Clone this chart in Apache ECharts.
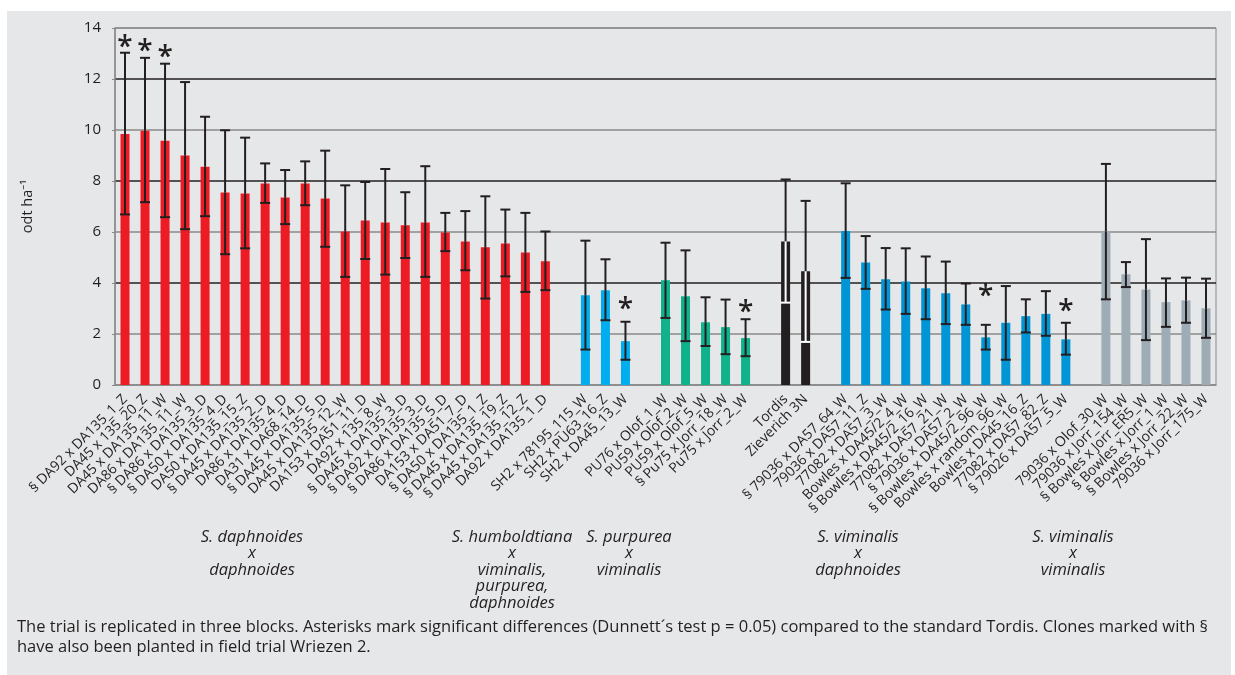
<!DOCTYPE html>
<html>
<head>
<meta charset="utf-8">
<script src="https://cdn.jsdelivr.net/npm/echarts@6/dist/echarts.min.js"></script>
<style>
  html, body { margin: 0; padding: 0; background: #ffffff; }
  #panel { position: absolute; left: 7px; top: 11px; width: 1224px; height: 664px; background: #e6e7e8; }
  #chart { position: absolute; left: 0; top: 0; width: 1235px; height: 675px; }
</style>
</head>
<body>
<div id="panel"></div>
<div id="chart"></div>
<script>
// Clone names; empty strings separate the crossing groups.
const categories = [
  '§ DA92 x DA135_1_Z', 'DA45 x 135_20_Z', 'DA45 x DA135_11_W', 'DA86 x DA135_11_W',
  '§ DA86 x DA135_3_D', '§ DA50 x DA135_4_D', 'DA50 x DA135_15_Z', '§ DA45 x DA135_2_D',
  'DA86 x DA135_4_D', 'DA31 x DA68_14_D', '§ DA45 x DA135_5_D', 'DA45 x DA135_12_W',
  'DA153 x DA51_11_D', 'DA92 x 135_8_W', '§ DA45 x DA135_3_D', '§ DA92 x DA135_3_D',
  '§ DA86 x DA135_5_D', 'DA153 x DA51_7_D', '§ DA50 x DA135_1_Z', '§ DA45 x DA135_19_Z',
  '§ DA45 x DA135_12_Z', 'DA92 x DA135_1_D',
  '',
  'SH2 x 78195_115_W', 'SH2 x PU63_16_Z', 'SH2 x DA45_13_W',
  '',
  'PU76 x Olof_1_W', 'PU59 x Olof_2_W', 'PU59 x Olof_5_W', '§ Pu75 x Jorr_18_W', 'Pu75 x Jorr_2_W',
  '',
  'Tordis', 'Zieverich 3N',
  '',
  '§ 79036 x DA57_64_W', '79036 x DA57_11_Z', '77082 x DA57_3_W', 'Bowles x DA45/2_4_W',
  '§ Bowles x DA45/2_16_W', '77082 x DA57_21_W', '§ 79036 x DA57_2_W', '§ Bowles x DA45/2_96_W',
  'Bowles x random_96_W', 'Bowles x DA45_16_Z', '77082 x DA57_82_Z', '§ 79026 x DA57_5_W',
  '',
  '79036 x Olof_30_W', '79036 x Jorr_154_W', '§ Bowles x Jorr_ER5_W', '§ Bowles x Jorr_1_W',
  '§ Bowles x Jorr_22_W', '79036 x Jorr_175_W'
];

// Crossing group of each category ('' for spacer slots).
const crossing = [
  'dd','dd','dd','dd','dd','dd','dd','dd','dd','dd','dd','dd','dd','dd','dd','dd','dd','dd','dd','dd','dd','dd',
  '',
  'hu','hu','hu',
  '',
  'pv','pv','pv','pv','pv',
  '',
  'st','st',
  '',
  'vd','vd','vd','vd','vd','vd','vd','vd','vd','vd','vd','vd',
  '',
  'vv','vv','vv','vv','vv','vv'
];

// Mean yield (odt ha-1)
const yieldMean = [
  9.84, 9.97, 9.58, 9.00, 8.56, 7.55, 7.51, 7.90, 7.35, 7.90, 7.31, 6.02, 6.45, 6.37, 6.26, 6.37, 5.98, 5.63, 5.40, 5.55, 5.20, 4.85,
  null,
  3.52, 3.72, 1.72,
  null,
  4.11, 3.48, 2.46, 2.27, 1.84,
  null,
  5.63, 4.46,
  null,
  6.04, 4.80, 4.15, 4.06, 3.79, 3.60, 3.16, 1.87, 2.44, 2.70, 2.79, 1.79,
  null,
  6.02, 4.34, 3.75, 3.25, 3.32, 3.01
];

// Lower end of the error bar
const yieldLow = [
  6.69, 7.17, 6.58, 6.11, 6.62, 5.13, 5.36, 7.14, 6.31, 7.05, 5.42, 4.24, 4.94, 4.33, 4.98, 4.24, 5.25, 4.50, 3.39, 4.26, 3.65, 3.72,
  null,
  1.39, 2.54, 0.99,
  null,
  2.63, 1.72, 1.53, 1.21, 1.13,
  null,
  3.23, 1.69,
  null,
  4.20, 3.77, 2.96, 2.79, 2.58, 2.39, 2.36, 1.39, 0.99, 2.06, 1.93, 1.19,
  null,
  3.36, 3.84, 1.76, 2.28, 2.44, 1.85
];

// Upper end of the error bar
const yieldHigh = [
  13.03, 12.83, 12.60, 11.88, 10.52, 9.99, 9.70, 8.69, 8.43, 8.77, 9.19, 7.83, 7.96, 8.47, 7.56, 8.58, 6.75, 6.82, 7.40, 6.88, 6.75, 6.02,
  null,
  5.66, 4.93, 2.48,
  null,
  5.58, 5.28, 3.44, 3.35, 2.58,
  null,
  8.06, 7.22,
  null,
  7.91, 5.84, 5.37, 5.36, 5.04, 4.84, 3.98, 2.36, 3.88, 3.36, 3.68, 2.44,
  null,
  8.67, 4.82, 5.72, 4.18, 4.21, 4.17
];

// Significant difference to Tordis (Dunnett): level of the asterisk on the value scale
const asteriskLevel = [
  13.52, 13.36, 13.13, null, null, null, null, null, null, null, null, null, null, null, null, null, null, null, null, null, null, null,
  null,
  null, null, 3.26,
  null,
  null, null, null, null, 3.13,
  null,
  null, null,
  null,
  null, null, null, null, null, null, null, 3.78, null, null, null, 3.17,
  null,
  null, null, null, null, null, null
];

const yTicks = { min: 0, max: 14, step: 2 };

const groupNames = [
  'S. daphnoides\nx\ndaphnoides',
  'S. humboldtiana\nx\nviminalis,\npurpurea,\ndaphnoides',
  'S. purpurea\nx\nviminalis',
  'S. viminalis\nx\ndaphnoides',
  'S. viminalis\nx\nviminalis'
];
const groupNameX = [252, 512, 629, 858, 1073];

const captionText = 'The trial is replicated in three blocks. Asterisks mark significant differences (Dunnett´s test p = 0.05) compared to the standard Tordis. Clones marked with §\nhave also been planted in field trial Wriezen 2.';

// ---- styling ----
const palette = { dd: '#ed1c24', hu: '#00aeef', pv: '#10b28b', st: '#231f20', vd: '#0096d6', vv: '#9eacb6' };
const ink = '#231f20';
const FONT = '"Open Sans", "Noto Sans", sans-serif';

const barData = yieldMean.map((v, i) => v == null ? '-' : { value: v, itemStyle: { color: palette[crossing[i]] } });
const errData = [];
yieldMean.forEach((v, i) => {
  if (v != null) errData.push([i, yieldLow[i], yieldHigh[i], v, crossing[i] === 'st' ? 1 : 0]);
});
const starData = [];
asteriskLevel.forEach((v, i) => { if (v != null) starData.push([i, v]); });

function renderError(params, api) {
  const i = api.value(0);
  const pLo = api.coord([i, api.value(1)]);
  const pHi = api.coord([i, api.value(2)]);
  const pM = api.coord([i, api.value(3)]);
  const lowColor = api.value(4) ? '#ffffff' : ink;
  const x = pLo[0];
  const cap = 5;
  const w = 2;
  return {
    type: 'group',
    children: [
      { type: 'line', shape: { x1: x, y1: pHi[1], x2: x, y2: pM[1] }, style: { stroke: ink, lineWidth: w } },
      { type: 'line', shape: { x1: x, y1: pM[1], x2: x, y2: pLo[1] }, style: { stroke: lowColor, lineWidth: w } },
      { type: 'line', shape: { x1: x - cap, y1: pHi[1], x2: x + cap, y2: pHi[1] }, style: { stroke: ink, lineWidth: w } },
      { type: 'line', shape: { x1: x - cap, y1: pLo[1], x2: x + cap, y2: pLo[1] }, style: { stroke: lowColor, lineWidth: w } }
    ]
  };
}

function renderStar(params, api) {
  const p = api.coord([api.value(0), api.value(1)]);
  return {
    type: 'text',
    x: p[0],
    y: p[1] + 8,
    style: { text: '*', fill: ink, font: '600 28px ' + FONT, align: 'center', verticalAlign: 'middle' }
  };
}

// Group captions below the axis labels: one centred text element per line.
const graphics = [];
groupNames.forEach((name, g) => {
  name.split('\n').forEach((line, k) => {
    graphics.push({
      type: 'text',
      x: groupNameX[g],
      y: 537 + k * 16.5,
      style: { text: line, fill: ink, font: 'italic 16.5px ' + FONT, align: 'center', textAlign: 'center', verticalAlign: 'middle', textVerticalAlign: 'middle' }
    });
  });
});
graphics.push({
  type: 'text', x: 17, y: 627,
  style: { text: captionText.split('\n')[0], fill: ink, font: '16.5px ' + FONT, verticalAlign: 'middle', textVerticalAlign: 'middle' }
});
graphics.push({
  type: 'text', x: 17, y: 647,
  style: { text: captionText.split('\n')[1], fill: ink, font: '16.5px ' + FONT, verticalAlign: 'middle', textVerticalAlign: 'middle' }
});

const chart = echarts.init(document.getElementById('chart'), null, { renderer: 'canvas' });
chart.setOption({
  backgroundColor: 'transparent',
  animation: false,
  grid: { left: 115, right: 19, top: 28, bottom: 290, show: true, borderColor: '#8a8a8a', borderWidth: 1, backgroundColor: 'transparent' },
  xAxis: {
    type: 'category',
    data: categories,
    axisLine: { lineStyle: { color: '#8a8a8a', width: 1.5 } },
    axisTick: { show: false },
    axisLabel: { interval: 0, rotate: 45, margin: 12, fontSize: 14, color: ink, fontFamily: FONT }
  },
  yAxis: {
    type: 'value',
    min: yTicks.min, max: yTicks.max, interval: yTicks.step,
    name: 'odt ha⁻¹',
    nameLocation: 'middle',
    nameGap: 80,
    nameTextStyle: { fontSize: 14.5, color: ink, fontFamily: FONT },
    axisLine: { show: true, lineStyle: { color: '#8a8a8a', width: 1.5 } },
    axisTick: { show: true, length: 3, lineStyle: { color: '#8a8a8a' } },
    axisLabel: { fontSize: 15, color: ink, fontFamily: FONT, margin: 14 },
    splitLine: { lineStyle: { color: ['#8a8a8a', '#8a8a8a', '#231f20', '#8a8a8a', '#231f20', '#8a8a8a', '#231f20', '#8a8a8a'], width: 1.5 } }
  },
  graphic: graphics,
  series: [
    { type: 'bar', data: barData, barWidth: 9, silent: true, z: 2 },
    { type: 'custom', renderItem: renderError, data: errData, z: 3, silent: true, encode: { x: 0, y: [1, 2] } },
    { type: 'custom', renderItem: renderStar, data: starData, z: 4, silent: true, encode: { x: 0, y: 1 } }
  ]
});
</script>
</body>
</html>
